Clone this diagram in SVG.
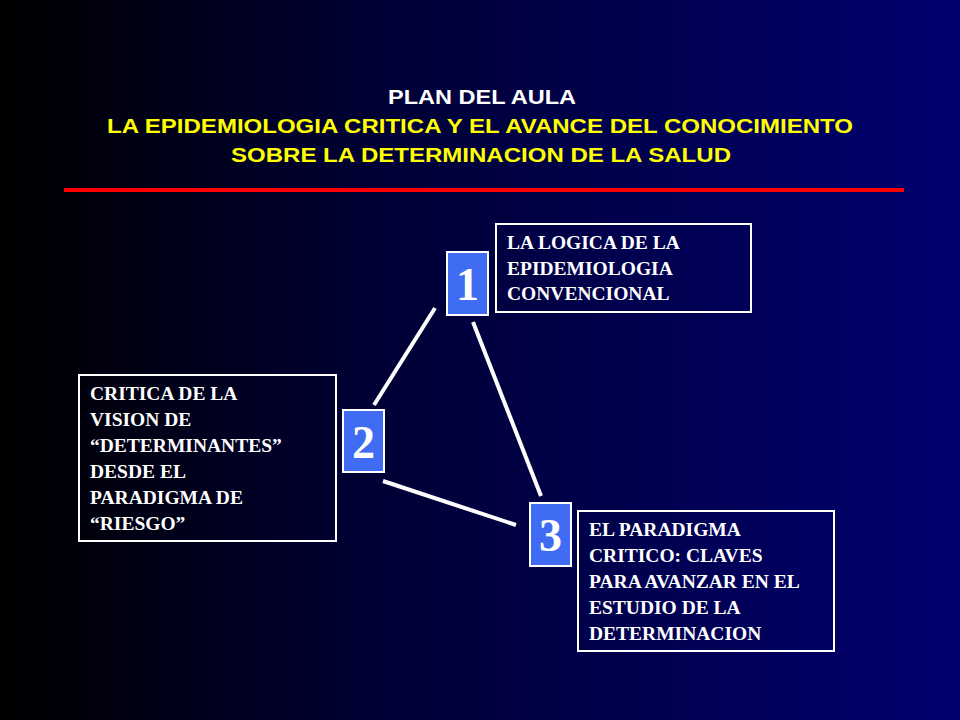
<svg xmlns="http://www.w3.org/2000/svg" width="960" height="720" viewBox="0 0 960 720">
<defs>
<linearGradient id="bg" x1="0" y1="0" x2="1" y2="0">
<stop offset="0" stop-color="#000000"/><stop offset="0.35" stop-color="#000030"/><stop offset="1" stop-color="#000070"/>
</linearGradient>
</defs>
<style>
.t{font-family:"Liberation Sans",Arial,sans-serif;font-weight:bold;font-size:21px;text-anchor:middle}
.b{font-family:"Liberation Serif","Times New Roman",serif;font-weight:bold;font-size:19.5px;fill:#fff}
.box{fill:none;stroke:#fff;stroke-width:2}
.num{fill:#3f6cf2;stroke:#fff;stroke-width:2}
.n{font-family:"Liberation Serif","Times New Roman",serif;font-weight:bold;font-size:46px;fill:#fff;text-anchor:middle}
.c{stroke:#fff;stroke-width:4}
</style>
<rect width="960" height="720" fill="url(#bg)"/>
<g id="title">
<text class="t" x="482" y="104" fill="#fff" textLength="188" lengthAdjust="spacingAndGlyphs">PLAN DEL AULA</text>
<text class="t" x="480" y="133" fill="#ffff00" textLength="746" lengthAdjust="spacingAndGlyphs">LA EPIDEMIOLOGIA CRITICA Y EL AVANCE DEL CONOCIMIENTO</text>
<text class="t" x="481" y="162" fill="#ffff00" textLength="500" lengthAdjust="spacingAndGlyphs">SOBRE LA DETERMINACION  DE LA SALUD</text>
<rect x="64" y="188" width="840" height="4" fill="#ff0000"/>
</g>
<g id="connectors">
<line class="c" x1="435" y1="308" x2="374" y2="405"/>
<line class="c" x1="473" y1="322" x2="541" y2="496"/>
<line class="c" x1="383" y1="481" x2="516" y2="525"/>
</g>
<g id="node1">
<rect class="num" x="447" y="252" width="41" height="63"/>
<text class="n" x="467.5" y="300">1</text>
<rect class="box" x="496" y="224" width="255" height="88"/>
<text class="b" x="507" y="249">LA LOGICA DE LA</text>
<text class="b" x="507" y="275">EPIDEMIOLOGIA</text>
<text class="b" x="507" y="300">CONVENCIONAL</text>
</g>
<g id="node2">
<rect class="num" x="343" y="410" width="41" height="62"/>
<text class="n" x="363.5" y="458">2</text>
<rect class="box" x="79" y="375" width="257" height="166"/>
<text class="b" x="90" y="400">CRITICA DE LA</text>
<text class="b" x="90" y="426">VISION DE</text>
<text class="b" x="90" y="452">“DETERMINANTES”</text>
<text class="b" x="90" y="478">DESDE EL</text>
<text class="b" x="90" y="504">PARADIGMA DE</text>
<text class="b" x="90" y="530">“RIESGO”</text>
</g>
<g id="node3">
<rect class="num" x="530" y="503" width="41" height="63"/>
<text class="n" x="550.5" y="551">3</text>
<rect class="box" x="578" y="511" width="256" height="140"/>
<text class="b" x="589" y="536">EL PARADIGMA</text>
<text class="b" x="589" y="562">CRITICO:  CLAVES</text>
<text class="b" x="589" y="588">PARA AVANZAR EN EL</text>
<text class="b" x="589" y="614">ESTUDIO DE LA</text>
<text class="b" x="589" y="640">DETERMINACION</text>
</g>
</svg>
